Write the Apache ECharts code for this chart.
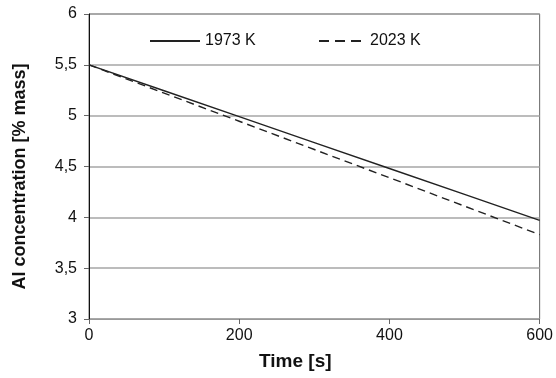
<!DOCTYPE html>
<html><head><meta charset="utf-8">
<script src="https://cdn.jsdelivr.net/npm/echarts@6/dist/echarts.min.js"></script>
<style>html,body{margin:0;padding:0;background:#fff}#c{width:556px;height:378px}</style>
</head><body><div id="c"></div>
<script>
const timeS = [0, 100, 200, 300, 400, 500, 600];
const k1973 = [5.5, 5.245, 4.99, 4.735, 4.48, 4.225, 3.97];
const k2023 = [5.5, 5.222, 4.945, 4.667, 4.39, 4.11, 3.83];
const seriesNames = ['1973 K', '2023 K'];
const xLabel = 'Time [s]';
const yLabel = 'Al concentration [% mass]';

const chart = echarts.init(document.getElementById('c'));
const font = 'Liberation Sans, Arial, sans-serif';
const legendBase = {
  top: 28, itemWidth: 50, itemHeight: 12, itemGap: 8,
  itemStyle: {opacity: 0},
  textStyle: {fontFamily: font, fontSize: 16, color: '#111'}
};
chart.setOption({
  animation: false,
  grid: {left: 89, right: 15, top: 14, bottom: 59, show: true, borderColor: '#666', borderWidth: 1},
  legend: [
    Object.assign({}, legendBase, {left: 144, data: [seriesNames[0]]}),
    Object.assign({}, legendBase, {left: 313, data: [seriesNames[1]], itemWidth: 46, itemGap: 10,
      lineStyle: {type: [10, 6]}})
  ],
  xAxis: {
    type: 'value', min: 0, max: 600, interval: 200,
    name: xLabel, nameLocation: 'middle', nameGap: 33,
    nameTextStyle: {fontFamily: font, fontSize: 19, fontWeight: 'bold', color: '#111', padding: [0, 38, 0, 0]},
    axisLine: {show: true, onZero: false, lineStyle: {color: '#999', width: 1}},
    axisTick: {show: true, length: 5, lineStyle: {color: '#666'}},
    axisLabel: {fontFamily: font, fontSize: 16, color: '#111', margin: 9},
    splitLine: {show: false}
  },
  yAxis: {
    type: 'value', min: 3, max: 6, interval: 0.5,
    name: yLabel, nameLocation: 'middle', nameGap: 60, nameRotate: 90,
    nameTextStyle: {fontFamily: font, fontSize: 18, fontWeight: 'bold', color: '#111', padding: [0, 20, 0, 0]},
    axisLine: {show: true, lineStyle: {color: '#111', width: 1}},
    axisTick: {show: true, length: 5, lineStyle: {color: '#666'}},
    axisLabel: {fontFamily: font, fontSize: 16, color: '#111', margin: 12,
      formatter: v => String(v).replace('.', ',')},
    splitLine: {show: true, lineStyle: {color: '#a6a6a6', width: 1.5}}
  },
  series: [
    {name: seriesNames[0], type: 'line', symbol: 'none', data: timeS.map((t, i) => [t, k1973[i]]),
      lineStyle: {color: '#222', width: 1.4}, itemStyle: {color: '#222'}},
    {name: seriesNames[1], type: 'line', symbol: 'none', data: timeS.map((t, i) => [t, k2023[i]]),
      lineStyle: {color: '#222', width: 1.4, type: [8, 5]}, itemStyle: {color: '#222'}}
  ]
});
</script></body></html>
